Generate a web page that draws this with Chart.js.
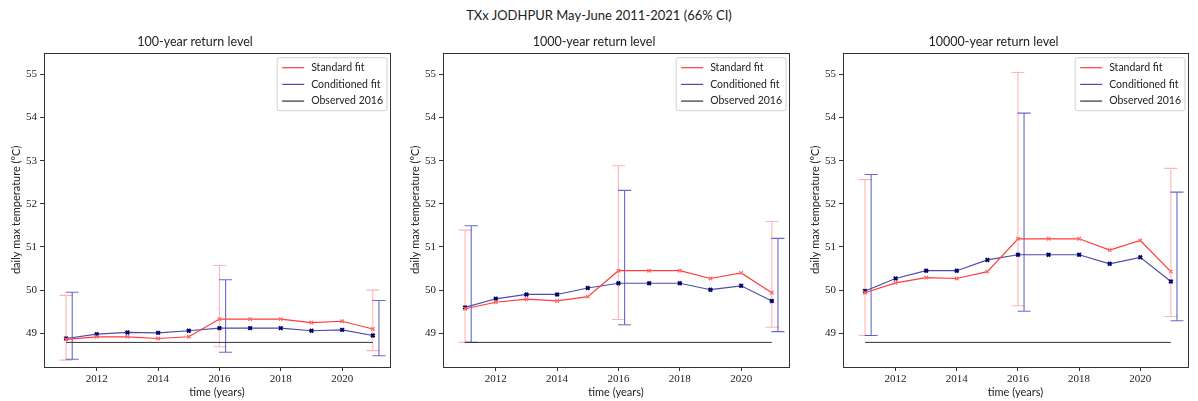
<!DOCTYPE html>
<html>
<head>
<meta charset="utf-8">
<script src="https://cdn.jsdelivr.net/npm/chart.js@4"></script>
<style>
  body { margin: 0; background: #fff; width: 1198px; height: 401px; overflow: hidden; position: relative; }
  #suptitle { position: absolute; left: 0; top: 7px; width: 1198px; text-align: center; font: 13px Lato, sans-serif; color: #222; }
  canvas { position: absolute; top: 30px; }
</style>
</head>
<body>
<div id="suptitle">TXx JODHPUR May-June 2011-2021 (66% CI)</div>
<canvas id="c100" width="400" height="371" style="left:0px"></canvas>
<canvas id="c1000" width="400" height="371" style="left:399px"></canvas>
<canvas id="c10000" width="399" height="371" style="left:799px"></canvas>
<script>
// years on the x axis and tick values
const years = [2011, 2012, 2013, 2014, 2015, 2016, 2017, 2018, 2019, 2020, 2021];
const xTicks = [2012, 2014, 2016, 2018, 2020];
const yTicks = [49, 50, 51, 52, 53, 54, 55];
const observed2016 = 48.79;
const observedSpan = [2011, 2021];

// return levels
const std100 = [48.86, 48.92, 48.92, 48.88, 48.92, 49.33, 49.33, 49.33, 49.25, 49.28, 49.10];
const cond100 = [48.88, 48.98, 49.02, 49.01, 49.06, 49.12, 49.12, 49.12, 49.06, 49.08, 48.95];
const std1000 = [49.57, 49.72, 49.79, 49.75, 49.85, 50.45, 50.45, 50.45, 50.27, 50.40, 49.94];
const cond1000 = [49.60, 49.80, 49.90, 49.90, 50.05, 50.16, 50.16, 50.16, 50.01, 50.10, 49.75];
const std10000 = [49.94, 50.17, 50.29, 50.27, 50.43, 51.19, 51.19, 51.19, 50.93, 51.15, 50.43];
const cond10000 = [49.98, 50.27, 50.45, 50.45, 50.70, 50.82, 50.82, 50.82, 50.61, 50.76, 50.20];

// 66% confidence intervals (only for some years)
const ciYears = [2011, 2016, 2021];
const stdLow100 = [48.38, 48.69, 48.60];
const stdHigh100 = [49.88, 50.57, 50.00];
const condLow100 = [48.40, 48.56, 48.48];
const condHigh100 = [49.95, 50.24, 49.76];
const stdLow1000 = [48.79, 49.32, 49.14];
const stdHigh1000 = [51.39, 52.88, 51.59];
const condLow1000 = [48.79, 49.20, 49.04];
const condHigh1000 = [51.49, 52.31, 51.20];
const stdLow10000 = [48.95, 49.64, 49.39];
const stdHigh10000 = [52.56, 55.04, 52.82];
const condLow10000 = [48.95, 49.51, 49.29];
const condHigh10000 = [52.68, 54.10, 52.27];

const SANS = "Lato, sans-serif";
const SERIF = "'Liberation Serif', serif";

// draws the CI whiskers with caps, through the chart scales
const errorBarPlugin = {
  id: "errorBars",
  beforeDatasetsDraw(chart, args, opts) {
    const ctx = chart.ctx;
    const xs = chart.scales.x;
    const ys = chart.scales.y;
    opts.bars.forEach((bar) => {
      ctx.save();
      ctx.strokeStyle = bar.color;
      ctx.lineWidth = 1.1;
      ciYears.forEach((yr, i) => {
        const px = xs.getPixelForValue(yr + bar.shift);
        const top = ys.getPixelForValue(bar.high[i]);
        const bot = ys.getPixelForValue(bar.low[i]);
        ctx.beginPath();
        ctx.moveTo(px, top);
        ctx.lineTo(px, bot);
        ctx.moveTo(px - 6.5, top);
        ctx.lineTo(px + 6.5, top);
        ctx.moveTo(px - 6.5, bot);
        ctx.lineTo(px + 6.5, bot);
        ctx.stroke();
      });
      ctx.restore();
    });
  },
};

// box round the plot and a matplotlib-like legend in the upper right
const frameLegendPlugin = {
  id: "frameLegend",
  afterDraw(chart) {
    const ctx = chart.ctx;
    const a = chart.chartArea;
    ctx.save();
    ctx.strokeStyle = "#333";
    ctx.lineWidth = 1;
    ctx.strokeRect(Math.round(a.left) + 0.5, Math.round(a.top) + 0.5, Math.round(a.right - a.left), Math.round(a.bottom - a.top));

    ctx.font = "10.5px " + SANS;
    const textW = Math.max(...chart.data.datasets.map((ds) => ctx.measureText(ds.label).width));
    const w = Math.max(107, textW + 38), h = 53;
    const bx = a.right - 3 - w, by = a.top + 5;
    ctx.fillStyle = "rgba(255,255,255,0.85)";
    ctx.strokeStyle = "#d0d0d0";
    ctx.beginPath();
    ctx.roundRect(bx, by, w, h, 2);
    ctx.fill();
    ctx.stroke();

    ctx.textBaseline = "middle";
    chart.data.datasets.forEach((ds, i) => {
      const y = by + 10 + i * 16.7;
      ctx.strokeStyle = ds.borderColor;
      ctx.lineWidth = 1.2;
      ctx.beginPath();
      ctx.moveTo(bx + 5, y);
      ctx.lineTo(bx + 27, y);
      ctx.stroke();
      ctx.fillStyle = "#222";
      ctx.fillText(ds.label, bx + 34, y);
    });
    ctx.restore();
  },
};

function points(values) {
  return years.map((yr, i) => ({ x: yr, y: values[i] }));
}

function makePanel(id, title, std, cond, stdLow, stdHigh, condLow, condHigh) {
  const ctx = document.getElementById(id).getContext("2d");
  new Chart(ctx, {
    type: "line",
    data: {
      datasets: [
        {
          label: "Standard fit",
          data: points(std),
          borderColor: "#ff3b3b",
          borderWidth: 1.2,
          pointStyle: "crossRot",
          pointRadius: 2.5,
          pointBorderWidth: 1.2,
          pointBorderColor: "#ff6a6a",
        },
        {
          label: "Conditioned fit",
          data: points(cond),
          borderColor: "#4b4ba8",
          borderWidth: 1.2,
          pointStyle: "crossRot",
          pointRadius: 2.5,
          pointBorderWidth: 2,
          pointBorderColor: "#000070",
        },
        {
          label: "Observed 2016",
          data: observedSpan.map((yr) => ({ x: yr, y: observed2016 })),
          borderColor: "#333333",
          borderWidth: 1,
          pointRadius: 0,
        },
      ],
    },
    options: {
      responsive: false,
      animation: false,
      devicePixelRatio: 1,
      layout: { padding: { right: 10, top: 0, left: 0, bottom: 0 } },
      plugins: {
        legend: { display: false },
        tooltip: { enabled: false },
        title: {
          display: true,
          text: title,
          color: "#222",
          font: { family: SANS, size: 12.5, weight: "normal" },
          padding: { top: 4, bottom: 3.7 },
        },
        errorBars: {
          bars: [
            { low: stdLow, high: stdHigh, shift: 0, color: "rgba(255,90,90,0.45)" },
            { low: condLow, high: condHigh, shift: 0.2, color: "rgba(40,40,180,0.7)" },
          ],
        },
      },
      scales: {
        x: {
          type: "linear",
          min: 2010.28,
          max: 2021.56,
          afterFit: (s) => { s.height = 34; },
          afterBuildTicks: (s) => { s.ticks = xTicks.map((v) => ({ value: v })); },
          grid: { drawOnChartArea: false, drawTicks: true, tickLength: 4, tickColor: "#333" },
          border: { display: false },
          ticks: {
            color: "#222",
            padding: 2,
            maxRotation: 0,
            font: { family: SERIF, size: 11 },
            callback: (v) => String(v),
          },
          title: {
            display: true,
            text: "time (years)",
            color: "#222",
            font: { family: SANS, size: 11 },
            padding: { top: 0, bottom: 2.4 },
          },
        },
        y: {
          type: "linear",
          min: 48.22,
          max: 55.5,
          afterFit: (s) => { s.width = 44; },
          afterBuildTicks: (s) => { s.ticks = yTicks.map((v) => ({ value: v })); },
          grid: { drawOnChartArea: false, drawTicks: true, tickLength: 4, tickColor: "#333" },
          border: { display: false },
          ticks: {
            color: "#222",
            padding: 3,
            font: { family: SERIF, size: 11 },
            callback: (v) => String(v),
          },
          title: {
            display: true,
            text: "daily max temperature (°C)",
            color: "#222",
            font: { family: SANS, size: 11 },
            padding: { top: 9.4, bottom: 0 },
          },
        },
      },
    },
    plugins: [errorBarPlugin, frameLegendPlugin],
  });
}

makePanel("c100", "100-year return level", std100, cond100, stdLow100, stdHigh100, condLow100, condHigh100);
makePanel("c1000", "1000-year return level", std1000, cond1000, stdLow1000, stdHigh1000, condLow1000, condHigh1000);
makePanel("c10000", "10000-year return level", std10000, cond10000, stdLow10000, stdHigh10000, condLow10000, condHigh10000);
</script>
</body>
</html>
